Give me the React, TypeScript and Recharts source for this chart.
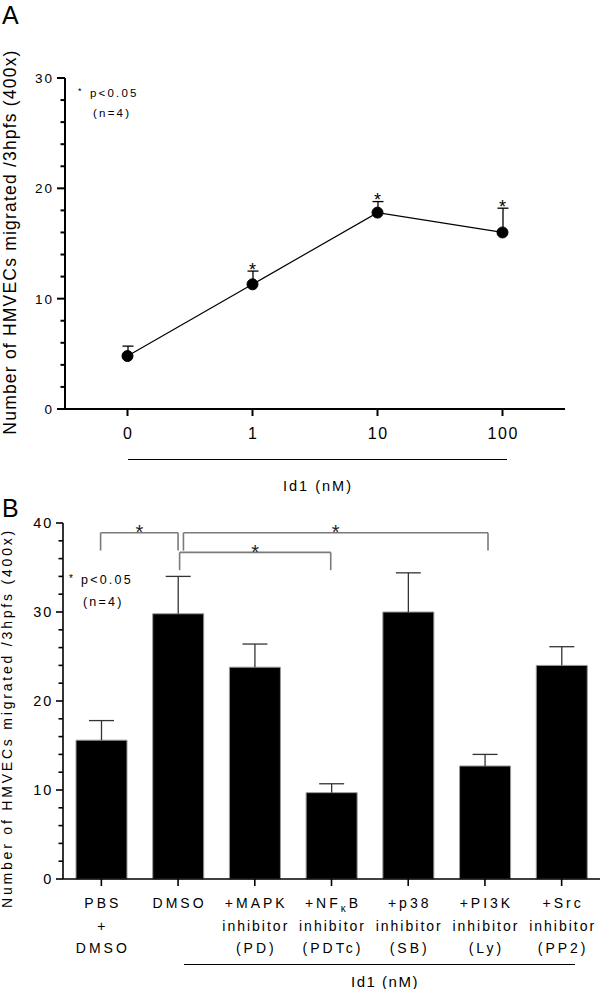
import React from 'react';
import { ComposedChart, Line, Bar, XAxis, YAxis, ReferenceLine } from 'recharts';

// ---------- Panel A data ----------
const doses = ['0', '1', '10', '100'];
const migrationA = [4.8, 11.3, 17.8, 16.0];
const errorA = [0.9, 1.2, 1.0, 2.2];
const sigA = [false, true, true, true];
const ticksA = [0, 2, 4, 6, 8, 10, 12, 14, 16, 18, 20, 22, 24, 26, 28, 30];

// ---------- Panel B data ----------
const groupsB = ['PBS+DMSO', 'DMSO', 'MAPK', 'NFkB', 'p38', 'PI3K', 'Src'];
const labelLinesB = [
  ['PBS', '+', 'DMSO'],
  ['DMSO'],
  ['+MAPK', 'inhibitor', '(PD)'],
  ['+NFκB', 'inhibitor', '(PDTc)'],
  ['+p38', 'inhibitor', '(SB)'],
  ['+PI3K', 'inhibitor', '(Ly)'],
  ['+Src', 'inhibitor', '(PP2)'],
];
const migrationB = [15.6, 29.8, 23.8, 9.7, 30.0, 12.7, 24.0];
const errorB = [2.2, 4.2, 2.6, 1.0, 4.4, 1.3, 2.1];
const ticksB = [0, 2, 4, 6, 8, 10, 12, 14, 16, 18, 20, 22, 24, 26, 28, 30, 32, 34, 36, 38, 40];
// significance brackets: ends in category-index units, heights in data units
const bracketFrom = [-0.01, 1.02, 1.07];
const bracketTo = [1.0, 2.99, 5.04];
const bracketTop = [38.9, 36.7, 38.9];
const bracketLeg = [36.9, 34.7, 36.9];

const FONT = '"Liberation Sans", Arial, Helvetica, sans-serif';

const dataA = doses.map((d, i) => ({
  dose: d,
  value: migrationA[i],
  errRange: [migrationA[i], migrationA[i] + errorA[i]],
  star: sigA[i] ? migrationA[i] + errorA[i] : null,
}));

const dataB = groupsB.map((g, i) => ({
  group: g,
  pos: i,
  value: migrationB[i],
  err: errorB[i],
}));

const makeYTick = (majorLen: number, minorLen: number, fontSize: number, spacing: number, sw: number) => (props: any) => {
  const { x, y, payload } = props;
  const v = payload.value;
  const major = v % 10 === 0;
  return (
    <g>
      <line x1={x} x2={x - (major ? majorLen : minorLen)} y1={y} y2={y} stroke="#000" strokeWidth={sw} />
      {major && (
        <text x={x - majorLen - 3} y={y} dy="0.36em" textAnchor="end" fontSize={fontSize} fontFamily={FONT}
          letterSpacing={spacing} fill="#000">
          {v}
        </text>
      )}
    </g>
  );
};

const makeWhisker = (cap: number, stroke: string, sw: number) => (props: any) => {
  const { x, y, width, height } = props;
  if (x == null || y == null || width == null || height == null) return <g />;
  const cx = x + width / 2;
  const top = Math.min(y, y + height);
  const bot = Math.max(y, y + height);
  return (
    <g>
      <line x1={cx} x2={cx} y1={top} y2={bot} stroke={stroke} strokeWidth={sw} />
      <line x1={cx - cap / 2} x2={cx + cap / 2} y1={top} y2={top} stroke={stroke} strokeWidth={sw} />
    </g>
  );
};

const XTickA = (props: any) => {
  const { x, y, payload } = props;
  return (
    <text x={x + 0.8} y={y + 23} textAnchor="middle" fontSize={16} fontFamily={FONT} letterSpacing={1.6} fill="#000">
      {payload.value}
    </text>
  );
};

const renderLine = (s: string) => {
  const k = s.indexOf('κ');
  if (k < 0) return s;
  return (
    <>
      {s.slice(0, k)}
      <tspan fontSize={10} dy={4}>κ</tspan>
      <tspan dy={-4}>{s.slice(k + 1)}</tspan>
    </>
  );
};

const XTickB = (props: any) => {
  const { x, y, payload } = props;
  const idx = groupsB.indexOf(payload.value);
  const lines = labelLinesB[idx] || [];
  return (
    <g>
      {lines.map((ln, i) => {
        const sp = ln === 'inhibitor' ? 2 : 3;
        return (
          <text key={i} x={x + sp / 2} y={y + 22 + i * 22.5} textAnchor="middle" fontSize={14} fontFamily={FONT}
            letterSpacing={sp} fill="#000">
            {renderLine(ln)}
          </text>
        );
      })}
    </g>
  );
};

const starDot = (props: any) => {
  const { cx, cy, payload, index } = props;
  if (cx == null || cy == null || payload.star == null) return <g key={`s${index}`} />;
  return (
    <text key={`s${index}`} x={cx} y={cy + 4.5} textAnchor="middle" fontSize={18} fontFamily={FONT} fill="#000">
      *
    </text>
  );
};

const starLabel = (props: any) => {
  const vb = props.viewBox || {};
  return (
    <text x={vb.x + vb.width / 2} y={vb.y + 6.5} textAnchor="middle" fontSize={20} fontFamily={FONT} fill="#222">
      *
    </text>
  );
};

const BR = '#7a7a7a';

export default function App() {
  return (
    <div style={{ position: 'absolute', left: 0, top: 0, width: 600, height: 989, background: '#fff' }}>
      {/* Panel A */}
      <div style={{ position: 'absolute', left: 0, top: 0 }}>
        <ComposedChart width={600} height={500} data={dataA} margin={{ top: 78, right: 35, left: 5, bottom: 61 }}>
          <XAxis dataKey="dose" type="category" height={30} axisLine={{ stroke: '#000', strokeWidth: 2 }}
            tickLine={{ stroke: '#000', strokeWidth: 2 }} tickSize={7} tickMargin={0} tick={<XTickA />} interval={0} />
          <YAxis domain={[0, 30]} ticks={ticksA} interval={0} width={60} axisLine={{ stroke: '#000', strokeWidth: 2 }}
            tickLine={false} tickSize={0} tickMargin={0} tick={makeYTick(8, 4.5, 13.5, 2, 2)} />
          <Bar dataKey="errRange" barSize={20} isAnimationActive={false} shape={makeWhisker(11, '#000', 1.3)} />
          <Line dataKey="value" stroke="#000" strokeWidth={1.2} isAnimationActive={false}
            dot={{ r: 5.5, fill: '#000', stroke: '#000', strokeWidth: 1 }} activeDot={false} />
          <Line dataKey="star" stroke="none" isAnimationActive={false} dot={starDot} activeDot={false} />
        </ComposedChart>
      </div>

      {/* Panel B */}
      <div style={{ position: 'absolute', left: 0, top: 480 }}>
        <ComposedChart width={600} height={509} data={dataB} margin={{ top: 43, right: 0, left: 3, bottom: 80 }}>
          <XAxis dataKey="group" type="category" height={30} axisLine={{ stroke: '#000', strokeWidth: 1.6 }}
            tickLine={{ stroke: '#000', strokeWidth: 1.6 }} tickSize={7} tickMargin={0} tick={<XTickB />} interval={0} />
          <XAxis xAxisId="pos" dataKey="pos" type="number" domain={[-0.5, 6.5]} allowDataOverflow hide />
          <YAxis domain={[0, 40]} ticks={ticksB} interval={0} width={60} axisLine={{ stroke: '#000', strokeWidth: 1.6 }}
            tickLine={false} tickSize={0} tickMargin={0} tick={makeYTick(7, 4.5, 14.5, 1.8, 1.6)} />
          <Bar dataKey="value" stackId="s" fill="#000" stroke="#999" strokeWidth={1} barSize={51}
            isAnimationActive={false} />
          <Bar dataKey="err" stackId="s" barSize={51} isAnimationActive={false} shape={makeWhisker(25, '#333', 1.3)} />
          {bracketFrom.map((f, i) => (
            <ReferenceLine key={`t${i}`} xAxisId="pos" stroke={BR} strokeWidth={1.6}
              segment={[{ x: f, y: bracketTop[i] }, { x: bracketTo[i], y: bracketTop[i] }]} label={starLabel} />
          ))}
          {bracketFrom.map((f, i) => (
            <ReferenceLine key={`l${i}`} xAxisId="pos" stroke={BR} strokeWidth={1.6}
              segment={[{ x: f, y: bracketTop[i] }, { x: f, y: bracketLeg[i] }]} />
          ))}
          {bracketTo.map((t, i) => (
            <ReferenceLine key={`r${i}`} xAxisId="pos" stroke={BR} strokeWidth={1.6}
              segment={[{ x: t, y: bracketTop[i] }, { x: t, y: bracketLeg[i] }]} />
          ))}
        </ComposedChart>
      </div>

      {/* Text overlay */}
      <svg width={600} height={989} style={{ position: 'absolute', left: 0, top: 0, pointerEvents: 'none' }}
        fontFamily={FONT}>
        <text x={2} y={24} fontSize={25} fill="#000">A</text>
        <text x={2} y={517} fontSize={25} fill="#000">B</text>

        <text transform="translate(16 242) rotate(-90)" textAnchor="middle" fontSize={17.5} letterSpacing={1.2}
          fill="#000">Number of HMVECs migrated /3hpfs (400x)</text>
        <text transform="translate(12 718) rotate(-90)" textAnchor="middle" fontSize={14} letterSpacing={2.8}
          fill="#000">Number of HMVECs migrated /3hpfs (400x)</text>

        <text x={78} y={94} fontSize={9} fill="#000">*</text>
        <text x={90} y={97} fontSize={11.5} letterSpacing={2.2} fill="#000">p&lt;0.05</text>
        <text x={93} y={117} fontSize={11.5} letterSpacing={2.2} fill="#000">(n=4)</text>

        <text x={69} y={582} fontSize={10} fill="#000">*</text>
        <text x={81} y={584} fontSize={12.5} letterSpacing={2.2} fill="#000">p&lt;0.05</text>
        <text x={83} y={606} fontSize={12.5} letterSpacing={2.2} fill="#000">(n=4)</text>

        <line x1={128} x2={507} y1={459.5} y2={459.5} stroke="#000" strokeWidth={1} />
        <text x={318} y={491} textAnchor="middle" fontSize={14.5} letterSpacing={2} fill="#000">Id1 (nM)</text>

        <line x1={184} x2={575} y1={964.5} y2={964.5} stroke="#000" strokeWidth={1} />
        <text x={385} y={987} textAnchor="middle" fontSize={15} letterSpacing={1.5} fill="#000">Id1 (nM)</text>
      </svg>
    </div>
  );
}
